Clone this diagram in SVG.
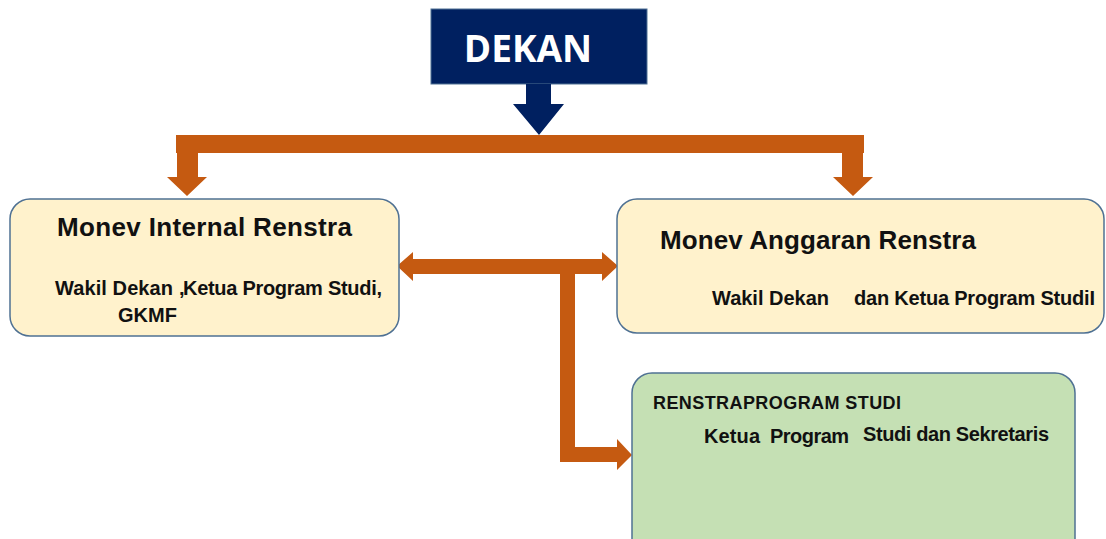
<svg xmlns="http://www.w3.org/2000/svg" width="1106" height="539" viewBox="0 0 1106 539">
<style>
.box{stroke:#4F7193;stroke-width:1.5}
.yellow{fill:#FFF2CC}
.green{fill:#C5E0B4}
.arr{fill:#C55A11}
.t{font-family:"Liberation Sans",Arial,sans-serif;font-weight:bold;fill:#111}
</style>
<rect width="1106" height="539" fill="#fff"/>
<g id="connectors">
<path class="arr" d="M176,135 H864 V153 H863 V177 H873 L853,196 L833,177 H842 V153 H198 V177 H207 L187,196 L167,177 H177 V153 H176 Z"/>
<path class="arr" d="M397,266 L413,252 V259 H602 V252 L618,266 L602,281 V274 H575 V447 H617 V439 L632,455 L617,470 V462 H560 V274 H413 V281 Z"/>
</g>
<g id="dekan">
<rect x="431" y="9" width="216" height="75" fill="#002060" stroke="#4F7193" stroke-width="1"/>
<path d="M526,84 V104 H513 L539,135 L564,104 H551 V84 Z" fill="#002060"/>
<text x="528" y="62" font-family="'Open Sans','Liberation Sans',sans-serif" font-weight="bold" font-size="37" fill="#fff" text-anchor="middle">DEKAN</text>
</g>
<g id="monev-internal">
<rect class="box yellow" x="10" y="199" width="389" height="137" rx="20"/>
<text class="t" x="57" y="236" font-size="26" textLength="295">Monev Internal Renstra</text>
<text class="t" x="55" y="295" font-size="20"><tspan textLength="118">Wakil Dekan</tspan><tspan x="179">,</tspan><tspan x="183" textLength="199">Ketua Program Studi,</tspan></text>
<text class="t" x="118" y="322" font-size="20">GKMF</text>
</g>
<g id="monev-anggaran">
<rect class="box yellow" x="617" y="199" width="487" height="134" rx="20"/>
<text class="t" x="660" y="249" font-size="26" textLength="316">Monev Anggaran Renstra</text>
<text class="t" x="712" y="305" font-size="20" textLength="117">Wakil Dekan</text>
<text class="t" x="854" y="305" font-size="20" textLength="241">dan Ketua Program StudiI</text>
</g>
<g id="renstra-prodi">
<rect class="box green" x="632" y="373" width="443" height="190" rx="20"/>
<text class="t" x="653" y="409" font-size="18" textLength="248">RENSTRAPROGRAM STUDI</text>
<text class="t" x="704" y="443" font-size="20" textLength="56">Ketua</text>
<text class="t" x="770" y="443" font-size="20" textLength="79">Program</text>
<text class="t" x="863" y="441" font-size="20" textLength="186">Studi dan Sekretaris</text>
</g>
</svg>
